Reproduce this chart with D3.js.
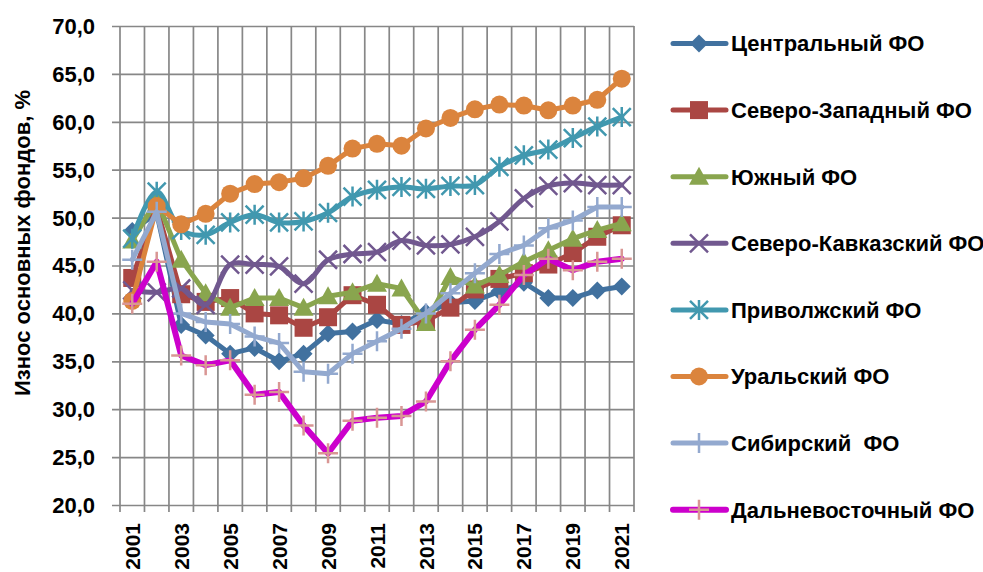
<!DOCTYPE html>
<html>
<head>
<meta charset="utf-8">
<script src="https://cdn.jsdelivr.net/npm/d3@7/dist/d3.min.js"></script>
<style>
  html, body { margin: 0; padding: 0; background: #fff; }
  svg { display: block; }
  text { font-family: "Liberation Sans", Arial, sans-serif; font-weight: bold; fill: #000; }
</style>
</head>
<body>
<svg id="chart" width="983" height="572"></svg>
<script>
// Years on the category axis
const years = d3.range(2001, 2022);
const tickYears = years.filter(y => y % 2 === 1);
const yTicks = [20, 25, 30, 35, 40, 45, 50, 55, 60, 65, 70];

// Wear of fixed assets by federal district, %
const central      = [48.6, 50.5, 38.8, 37.7, 35.8, 36.4, 35.0, 35.8, 37.9, 38.1, 39.3, 38.9, 40.1, 41.1, 41.3, 42.3, 43.2, 41.6, 41.6, 42.4, 42.8];
const northWest    = [43.7, 51.0, 42.0, 41.2, 41.6, 40.0, 39.8, 38.5, 39.6, 41.9, 40.9, 38.8, 39.2, 40.6, 42.5, 43.6, 44.2, 45.1, 46.3, 48.0, 49.2];
const south        = [47.6, 51.8, 45.6, 42.1, 40.6, 41.6, 41.6, 40.6, 41.8, 42.2, 43.1, 42.6, 39.0, 43.8, 42.9, 44.0, 45.4, 46.6, 47.8, 48.7, 49.4];
const northCaucasus= [42.4, 42.2, 42.6, 40.9, 45.1, 45.1, 44.9, 43.1, 45.6, 46.2, 46.4, 47.6, 47.1, 47.2, 48.0, 49.6, 52.0, 53.3, 53.6, 53.4, 53.4];
const volga        = [47.8, 52.7, 48.7, 48.2, 49.5, 50.3, 49.5, 49.6, 50.5, 52.2, 52.9, 53.2, 53.0, 53.3, 53.4, 55.3, 56.5, 57.1, 58.3, 59.5, 60.5];
const urals        = [41.3, 51.2, 49.3, 50.4, 52.5, 53.5, 53.7, 54.1, 55.4, 57.2, 57.7, 57.5, 59.3, 60.4, 61.3, 61.8, 61.7, 61.2, 61.7, 62.3, 64.5];
const siberia      = [45.6, 50.6, 40.0, 39.1, 38.9, 37.6, 36.9, 33.9, 33.7, 35.8, 37.1, 38.4, 40.0, 42.1, 44.2, 46.2, 47.1, 48.9, 49.7, 51.1, 51.1];
const farEast      = [41.0, 45.4, 35.6, 34.6, 35.1, 31.5, 31.8, 28.3, 25.4, 28.8, 29.1, 29.3, 30.8, 35.0, 38.3, 40.9, 44.0, 45.7, 44.5, 45.4, 45.7];

const seriesNames = ["Центральный ФО", "Северо-Западный ФО", "Южный ФО", "Северо-Кавказский ФО",
                     "Приволжский ФО", "Уральский ФО", "Сибирский  ФО", "Дальневосточный ФО"];

const series = [
  { name: seriesNames[0], values: central,       color: "#41719f", marker: "diamond",  smooth: false, width: 5 },
  { name: seriesNames[1], values: northWest,     color: "#aa4643", marker: "square",   smooth: false, width: 5 },
  { name: seriesNames[2], values: south,         color: "#89a54e", marker: "triangle", smooth: false, width: 5 },
  { name: seriesNames[3], values: northCaucasus, color: "#71588f", marker: "x",        smooth: true,  width: 5 },
  { name: seriesNames[4], values: volga,         color: "#4198af", marker: "asterisk", smooth: true,  width: 5 },
  { name: seriesNames[5], values: urals,         color: "#db843d", marker: "circle",   smooth: false, width: 5 },
  { name: seriesNames[6], values: siberia,       color: "#93a9cf", marker: "plus",     smooth: false, width: 5 },
  { name: seriesNames[7], values: farEast,       color: "#cc00cc", marker: "plus",     smooth: false, width: 6, markerColor: "#d99694" }
];

const svg = d3.select("#chart");
const plot = { left: 120, right: 634, top: 26, bottom: 505 };

const x = d3.scaleBand().domain(years).range([plot.left, plot.right]).padding(0);
const y = d3.scaleLinear().domain([20, 70]).range([plot.bottom, plot.top]);
const cx = yr => x(yr) + x.bandwidth() / 2;

const gridColor = "#878787";

// Horizontal grid lines with outside ticks
const yAxis = d3.axisLeft(y).tickValues(yTicks).tickSize(-(plot.right - plot.left)).tickFormat("");
const gy = svg.append("g").attr("transform", `translate(${plot.left},0)`).call(yAxis);
gy.select(".domain").remove();
gy.selectAll(".tick line").attr("stroke", gridColor).attr("stroke-width", 1.7).attr("x1", -8);

// Vertical grid lines at category boundaries
const bounds = years.map(yr => x(yr)).concat([plot.right]);
svg.append("g").selectAll("line").data(bounds).join("line")
  .attr("x1", d => d).attr("x2", d => d)
  .attr("y1", plot.top).attr("y2", plot.bottom + 7)
  .attr("stroke", gridColor).attr("stroke-width", 1.7);

// Y tick labels
svg.append("g").selectAll("text").data(yTicks).join("text")
  .attr("x", 95).attr("y", d => y(d)).attr("dy", "0.36em")
  .attr("text-anchor", "end").attr("font-size", 22)
  .text(d => d3.format(".1f")(d).replace(".", ","));

// X tick labels (rotated)
svg.append("g").selectAll("text").data(tickYears).join("text")
  .attr("transform", d => `translate(${cx(d)},523) rotate(-90)`)
  .attr("dy", "0.36em").attr("text-anchor", "end").attr("font-size", 21)
  .text(d => d);

// Y axis title
svg.append("text")
  .attr("transform", `translate(22,243) rotate(-90)`)
  .attr("dy", "0.36em").attr("text-anchor", "middle").attr("font-size", 22)
  .text("Износ основных фондов, %");

// Marker drawing
function drawMarker(g, type, color) {
  const s = 9;
  switch (type) {
    case "diamond":
      g.append("path").attr("d", `M0,${-s}L${s},0L0,${s}L${-s},0Z`).attr("fill", color); break;
    case "square":
      g.append("rect").attr("x", -s).attr("y", -s).attr("width", 2 * s).attr("height", 2 * s).attr("fill", color); break;
    case "triangle":
      g.append("path").attr("d", `M0,${-s - 1}L${s + 1},${s - 1}L${-s - 1},${s - 1}Z`).attr("fill", color); break;
    case "circle":
      g.append("circle").attr("r", s).attr("fill", color); break;
    case "x":
      g.append("path").attr("d", `M${-s},${-s}L${s},${s}M${-s},${s}L${s},${-s}`)
        .attr("stroke", color).attr("stroke-width", 2.5).attr("fill", "none"); break;
    case "asterisk":
      g.append("path").attr("d", `M${-s},${-s}L${s},${s}M${-s},${s}L${s},${-s}M0,${-s - 1}L0,${s + 1}`)
        .attr("stroke", color).attr("stroke-width", 2.5).attr("fill", "none"); break;
    case "plus":
      g.append("path").attr("d", `M${-s - 1},0L${s + 1},0M0,${-s - 1}L0,${s + 1}`)
        .attr("stroke", color).attr("stroke-width", 2.5).attr("fill", "none"); break;
  }
}

// Series lines and markers
const linear = d3.line().x((d, i) => cx(years[i])).y(d => y(d));
const smooth = d3.line().x((d, i) => cx(years[i])).y(d => y(d)).curve(d3.curveCatmullRom.alpha(0.5));

series.forEach(s => {
  const g = svg.append("g");
  g.append("path").datum(s.values)
    .attr("d", s.smooth ? smooth : linear)
    .attr("fill", "none").attr("stroke", s.color).attr("stroke-width", s.width)
    .attr("stroke-linejoin", "round").attr("stroke-linecap", "round");
  s.values.forEach((v, i) => {
    const m = g.append("g").attr("transform", `translate(${cx(years[i])},${y(v)})`);
    drawMarker(m, s.marker, s.markerColor || s.color);
  });
});

// Legend
const legend = svg.append("g");
series.forEach((s, i) => {
  const ly = 43.5 + i * 66.6;
  const g = legend.append("g").attr("transform", `translate(0,${ly})`);
  g.append("line").attr("x1", 673).attr("x2", 726).attr("y1", 0).attr("y2", 0)
    .attr("stroke", s.color).attr("stroke-width", s.width).attr("stroke-linecap", "round");
  const m = g.append("g").attr("transform", "translate(699,0)");
  drawMarker(m, s.marker, s.markerColor || s.color);
  g.append("text").attr("x", 731).attr("y", 0).attr("dy", "0.36em")
    .attr("font-size", 22).style("white-space", "pre")
    .text(s.name);
});
</script>
</body>
</html>
